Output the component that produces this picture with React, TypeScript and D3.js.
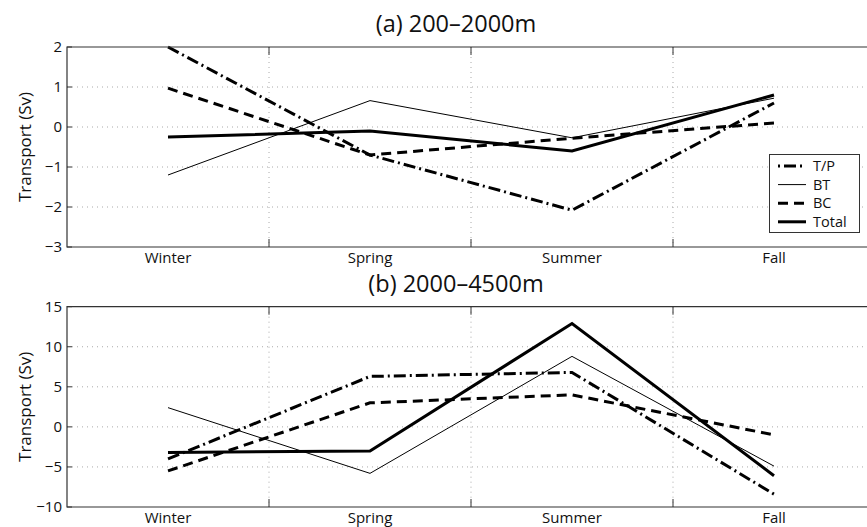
import React from "react";
import * as d3 from "d3";

const seasons = ["Winter", "Spring", "Summer", "Fall"];
const seriesNames = ["T/P", "BT", "BC", "Total"];

// Panel (a) 200–2000m
const upperTP = [2.0, -0.7, -2.08, 0.6];
const upperBT = [-1.2, 0.66, -0.27, 0.72];
const upperBC = [0.97, -0.7, -0.28, 0.1];
const upperTotal = [-0.25, -0.1, -0.6, 0.8];
const upperTicks = [-3, -2, -1, 0, 1, 2];

// Panel (b) 2000–4500m
const lowerTP = [-4.0, 6.3, 6.8, -8.4];
const lowerBT = [2.4, -5.8, 8.8, -4.9];
const lowerBC = [-5.5, 3.0, 4.0, -1.0];
const lowerTotal = [-3.2, -3.0, 12.9, -6.1];
const lowerTicks = [-10, -5, 0, 5, 10, 15];

const gridX = [1.5, 2.5, 3.5];

const styles: Record<string, { w: number; dash?: string }> = {
  "T/P": { w: 3, dash: "12 4 2 4" },
  BT: { w: 1 },
  BC: { w: 3, dash: "10 6" },
  Total: { w: 3 },
};

const FONT = "'Open Sans', sans-serif";
const W = 867;
const H = 527;
const x = d3.scaleLinear().domain([0.5, 4.5]).range([67, 875]);

function Panel({
  title,
  top,
  bottom,
  ticks,
  data,
  titleY,
  labelY,
  legend,
}: {
  title: string;
  top: number;
  bottom: number;
  ticks: number[];
  data: number[][];
  titleY: number;
  labelY: number;
  legend?: boolean;
}) {
  const y = d3
    .scaleLinear()
    .domain([ticks[0], ticks[ticks.length - 1]])
    .range([bottom, top]);
  const line = d3
    .line<number>()
    .x((_, i) => x(i + 1))
    .y((d) => y(d));
  const left = x(0.5);
  const right = x(4.5);
  return (
    <g>
      <text x={456} y={titleY} fontSize={23.5} textAnchor="middle" fontFamily={FONT} fill="#111">
        {title}
      </text>
      {ticks.slice(1, -1).map((t) => (
        <line key={"h" + t} x1={left} x2={right} y1={y(t)} y2={y(t)} stroke="#aaa" strokeWidth={1} strokeDasharray="1 4" />
      ))}
      {gridX.map((g) => (
        <line key={"v" + g} x1={x(g)} x2={x(g)} y1={top} y2={bottom} stroke="#aaa" strokeWidth={1} strokeDasharray="1 4" />
      ))}
      {gridX.map((g) => (
        <g key={"t" + g}>
          <line x1={x(g)} x2={x(g)} y1={bottom} y2={bottom - 8} stroke="#333" strokeWidth={1} />
          <line x1={x(g)} x2={x(g)} y1={top} y2={top + 8} stroke="#333" strokeWidth={1} />
        </g>
      ))}
      {ticks.map((t) => (
        <g key={"yt" + t}>
          <line x1={left} x2={left + 5} y1={y(t)} y2={y(t)} stroke="#333" strokeWidth={1} />
          <text x={62} y={y(t)} dy="0.35em" fontSize={15} textAnchor="end" fontFamily={FONT} fill="#111">
            {t < 0 ? "\u2212" + Math.abs(t) : String(t)}
          </text>
        </g>
      ))}
      {data.map((vals, si) => {
        const st = styles[seriesNames[si]];
        return (
          <path
            key={seriesNames[si]}
            d={line(vals) || ""}
            fill="none"
            stroke="#000"
            strokeWidth={st.w}
            strokeDasharray={st.dash}
            strokeLinejoin="miter"
          />
        );
      })}
      <path d={`M${right},${top}H${left}V${bottom}H${right}`} fill="none" stroke="#333" strokeWidth={1.2} />
      {seasons.map((s, i) => (
        <text key={s} x={x(i + 1)} y={labelY} fontSize={15} textAnchor="middle" fontFamily={FONT} fill="#111">
          {s}
        </text>
      ))}
      <text
        transform={`translate(31,${(top + bottom) / 2}) rotate(-90)`}
        fontSize={17}
        textAnchor="middle"
        fontFamily={FONT}
        fill="#111"
      >
        Transport (Sv)
      </text>
      {legend && (
        <g>
          <rect x={769.5} y={154.5} width={90} height={78} fill="#fff" stroke="#333" strokeWidth={1} />
          {seriesNames.map((n, i) => {
            const ly = 166 + i * 18.6;
            const st = styles[n];
            return (
              <g key={n}>
                <line
                  x1={778}
                  x2={806}
                  y1={ly}
                  y2={ly}
                  stroke="#000"
                  strokeWidth={st.w}
                  strokeDasharray={n === "T/P" ? "2 4 12 4" : st.dash}
                />
                <text x={813} y={ly} dy="0.36em" fontSize={14.5} fontFamily={FONT} fill="#111">
                  {n}
                </text>
              </g>
            );
          })}
        </g>
      )}
    </g>
  );
}

export default function App() {
  return (
    <svg
      width={W}
      height={H}
      style={{ position: "absolute", left: 0, top: 0, background: "#fff" }}
      viewBox={`0 0 ${W} ${H}`}
    >
      <rect width={W} height={H} fill="#fff" />
      <Panel
        title="(a) 200–2000m"
        top={47}
        bottom={247}
        ticks={upperTicks}
        data={[upperTP, upperBT, upperBC, upperTotal]}
        titleY={32}
        labelY={263}
        legend
      />
      <Panel
        title="(b) 2000–4500m"
        top={306.7}
        bottom={507}
        ticks={lowerTicks}
        data={[lowerTP, lowerBT, lowerBC, lowerTotal]}
        titleY={292}
        labelY={523}
      />
    </svg>
  );
}
